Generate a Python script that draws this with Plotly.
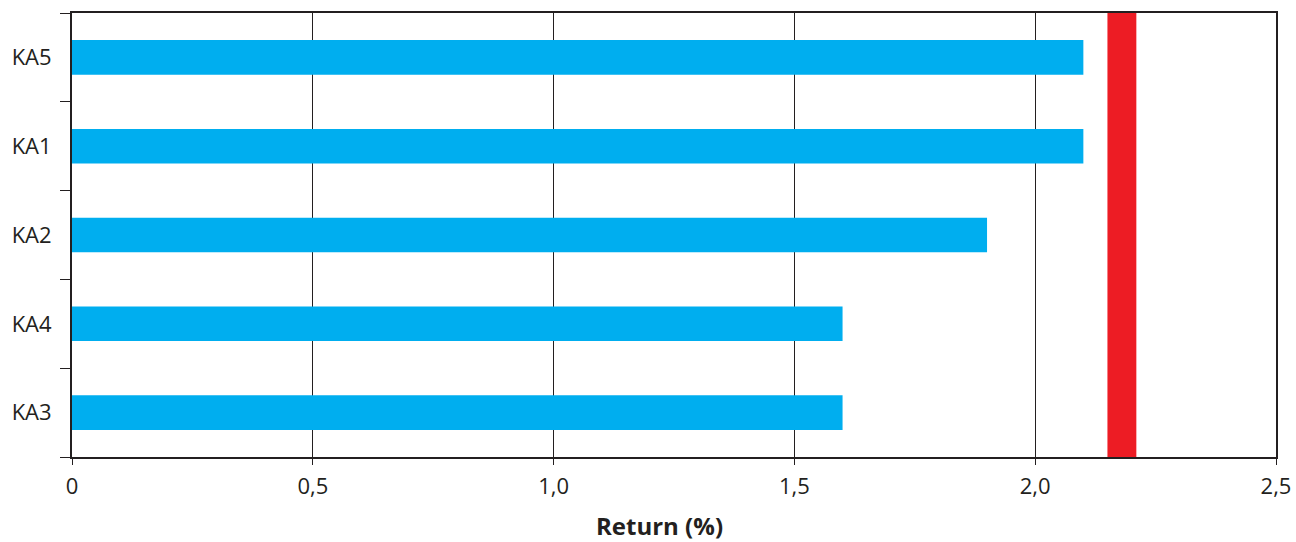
import plotly.graph_objects as go

categories = ["KA3", "KA4", "KA2", "KA1", "KA5"]
returns = [1.6, 1.6, 1.9, 2.1, 2.1]
band_range = [2.15, 2.21]
x_tickvals = [0, 0.5, 1.0, 1.5, 2.0, 2.5]
x_ticktext = ["0", "0,5", "1,0", "1,5", "2,0", "2,5"]
axis_title = "Return (%)"

dark = "#231f20"
font_family = "Open Sans, Noto Sans, sans-serif"

fig = go.Figure()
fig.add_trace(go.Bar(
    y=categories, x=returns, orientation="h",
    marker=dict(color="#00aeef", line=dict(width=0)),
    width=0.39,
))

fig.add_shape(type="rect", xref="x", yref="paper",
              x0=band_range[0], x1=band_range[1], y0=0, y1=1,
              fillcolor="#ed1c24", line=dict(width=0), layer="above")

fig.update_layout(
    width=1296, height=542,
    margin=dict(l=72, r=20, t=13, b=85, autoexpand=False),
    paper_bgcolor="white", plot_bgcolor="white",
    showlegend=False,
    font=dict(family=font_family, size=22, color=dark),
)
fig.update_xaxes(
    range=[0, 2.5], tickvals=x_tickvals, ticktext=x_ticktext,
    showgrid=True, gridcolor=dark, gridwidth=1,
    showline=True, linecolor=dark, linewidth=2, mirror=True,
    ticks="outside", ticklen=6, tickcolor=dark, tickwidth=1,
    tickfont=dict(size=22, color=dark), zeroline=False, automargin=False,
    ticklabelstandoff=3,
)
fig.update_yaxes(
    tickson="boundaries", ticks="outside", ticklen=10, tickcolor=dark, tickwidth=1,
    showline=True, linecolor=dark, linewidth=2, mirror=True,
    showgrid=False, tickfont=dict(size=22, color=dark), automargin=False,
    ticklabelstandoff=14,
)
fig.add_annotation(text="<b>" + axis_title + "</b>", xref="paper", yref="paper",
                   x=0.488, y=0, yshift=-68, showarrow=False, borderpad=0,
                   font=dict(size=24, color=dark, family=font_family),
                   xanchor="center", yanchor="middle")

fig.write_html("out.html", config={"displayModeBar": False},
               post_script="document.body.style.margin='0';document.body.style.overflow='hidden';")
